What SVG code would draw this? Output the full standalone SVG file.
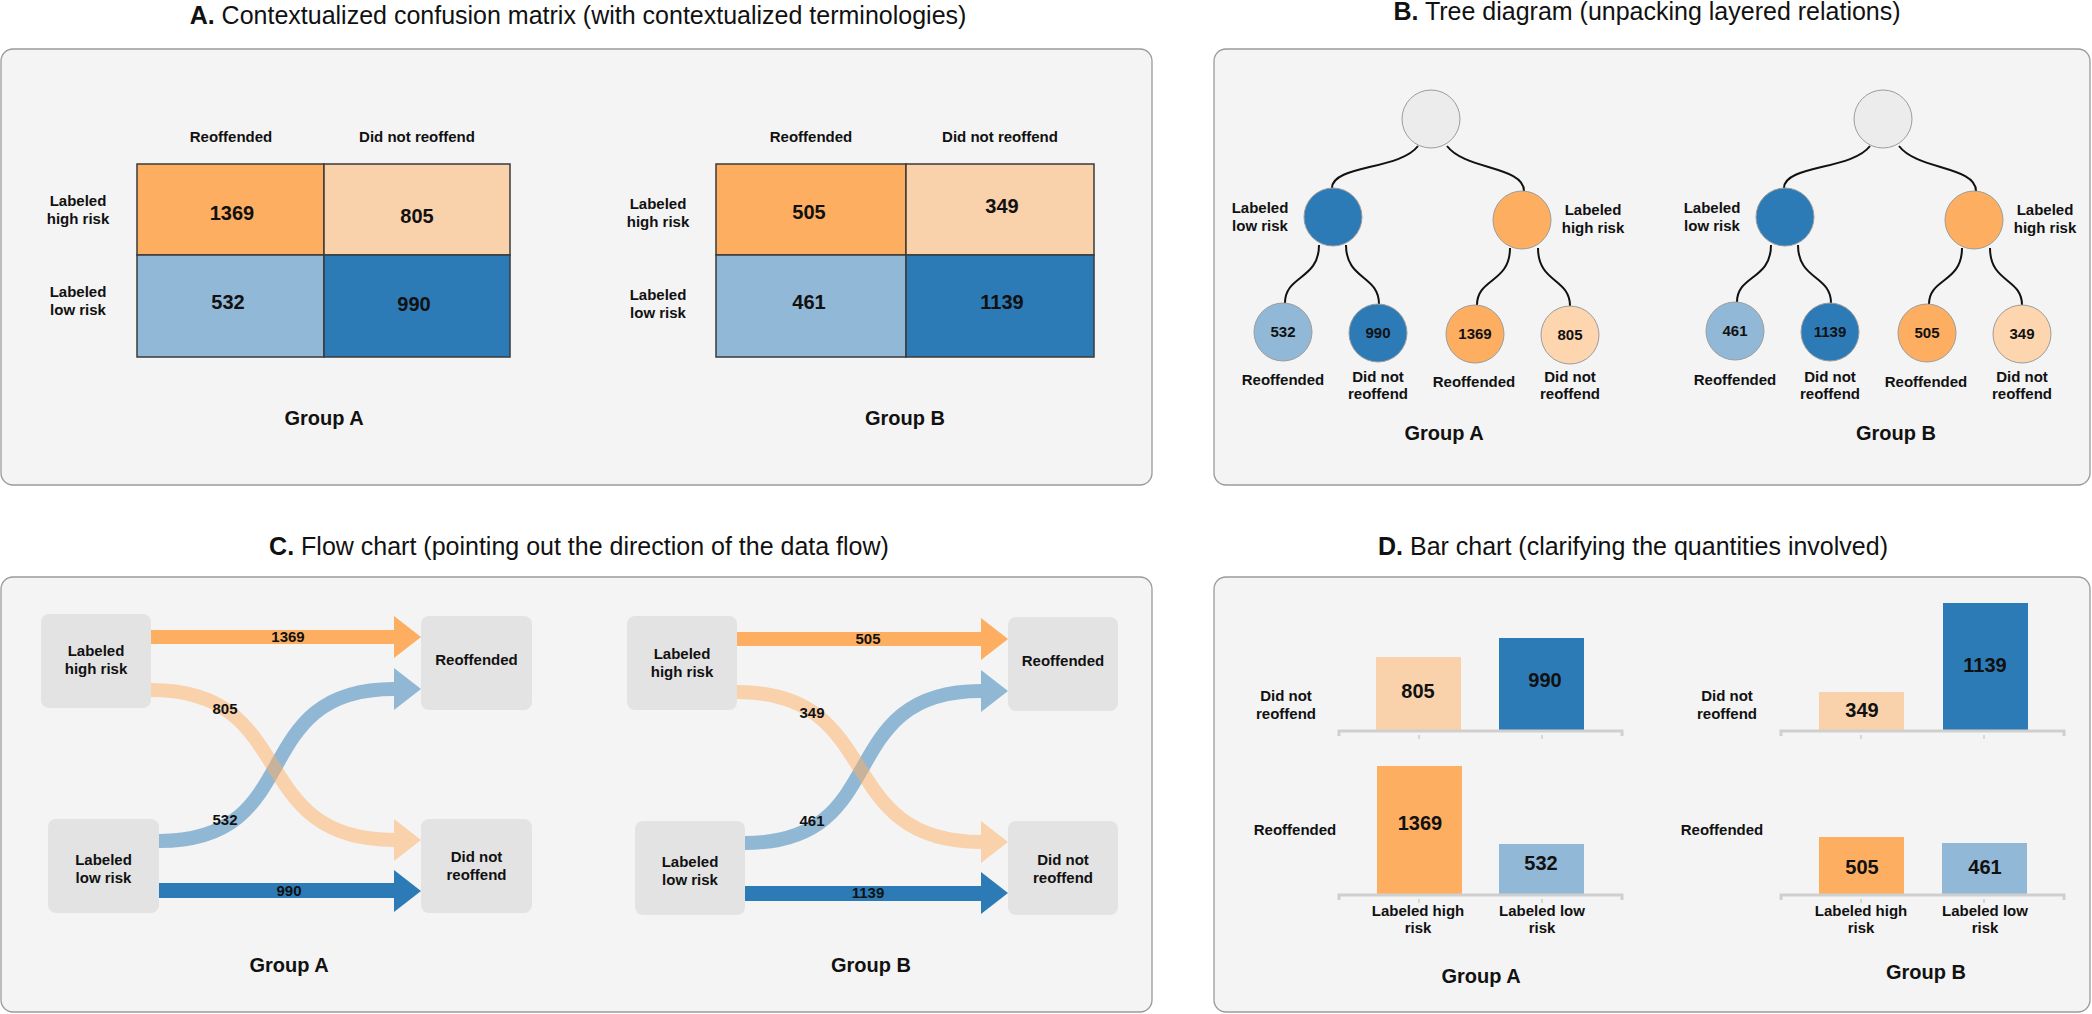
<svg xmlns="http://www.w3.org/2000/svg" width="2092" height="1014" viewBox="0 0 2092 1014">
<defs>
<style>
text{font-family:"Liberation Sans",Arial,sans-serif;fill:#111;text-anchor:middle}
.title{font-size:25px;font-weight:400}
.lbl{font-size:15px;font-weight:700}
.num{font-size:20px;font-weight:700}
.sn{font-size:15px;font-weight:700}
.grp{font-size:20px;font-weight:700}
.panel{fill:#f4f4f4;stroke:#9a9a9a;stroke-width:1.3}
.cell{stroke:#3a3a3a;stroke-width:1.5}
.dor{fill:#fdae61}.lor{fill:#f9d1aa}.lbl-b{fill:#91b8d6}.dbl{fill:#2c7bb6}
.fbox{fill:#e3e3e3}
.conn{fill:none;stroke:#111;stroke-width:2}
.circ{stroke:#9c9c9c;stroke-width:1}
.axis{stroke:#cfcfcf;stroke-width:3;fill:none}
.tick{stroke:#cfcfcf;stroke-width:1.5}
.band-o{fill:none;stroke:#fdae61;stroke-opacity:.5;stroke-width:14}
.band-b{fill:none;stroke:#2c7bb6;stroke-opacity:.5;stroke-width:14}
.head-o{fill:#fdae61;fill-opacity:.5}
.head-b{fill:#2c7bb6;fill-opacity:.5}
</style>
</defs>
<rect width="2092" height="1014" fill="#ffffff"/>

<!-- Titles -->
<text class="title" x="578" y="24"><tspan font-weight="700">A.</tspan> Contextualized confusion matrix (with contextualized terminologies)</text>
<text class="title" x="1647" y="20"><tspan font-weight="700">B.</tspan> Tree diagram (unpacking layered relations)</text>
<text class="title" x="579" y="555"><tspan font-weight="700">C.</tspan> Flow chart (pointing out the direction of the data flow)</text>
<text class="title" x="1633" y="555"><tspan font-weight="700">D.</tspan> Bar chart (clarifying the quantities involved)</text>

<!-- Panels -->
<rect class="panel" x="1" y="49" width="1151" height="436" rx="12"/>
<rect class="panel" x="1214" y="49" width="876" height="436" rx="12"/>
<rect class="panel" x="1" y="577" width="1151" height="435" rx="12"/>
<rect class="panel" x="1214" y="577" width="876" height="435" rx="12"/>

<!-- ===== A. Confusion matrices ===== -->
<g id="matrixA">
<text class="lbl" x="231" y="142">Reoffended</text>
<text class="lbl" x="417" y="142">Did not reoffend</text>
<text class="lbl" x="78" y="206">Labeled</text>
<text class="lbl" x="78" y="224">high risk</text>
<text class="lbl" x="78" y="297">Labeled</text>
<text class="lbl" x="78" y="315">low risk</text>
<rect class="cell dor" x="137" y="164" width="187" height="91"/>
<rect class="cell lor" x="324" y="164" width="186" height="91"/>
<rect class="cell lbl-b" x="137" y="255" width="187" height="102"/>
<rect class="cell dbl" x="324" y="255" width="186" height="102"/>
<text class="num" x="232" y="220">1369</text>
<text class="num" x="417" y="223">805</text>
<text class="num" x="228" y="309">532</text>
<text class="num" x="414" y="311">990</text>
<text class="grp" x="324" y="425">Group A</text>
</g>
<g id="matrixB">
<text class="lbl" x="811" y="142">Reoffended</text>
<text class="lbl" x="1000" y="142">Did not reoffend</text>
<text class="lbl" x="658" y="209">Labeled</text>
<text class="lbl" x="658" y="227">high risk</text>
<text class="lbl" x="658" y="300">Labeled</text>
<text class="lbl" x="658" y="318">low risk</text>
<rect class="cell dor" x="716" y="164" width="190" height="91"/>
<rect class="cell lor" x="906" y="164" width="188" height="91"/>
<rect class="cell lbl-b" x="716" y="255" width="190" height="102"/>
<rect class="cell dbl" x="906" y="255" width="188" height="102"/>
<text class="num" x="809" y="219">505</text>
<text class="num" x="1002" y="213">349</text>
<text class="num" x="809" y="309">461</text>
<text class="num" x="1002" y="309">1139</text>
<text class="grp" x="905" y="425">Group B</text>
</g>

<!-- ===== B. Tree diagrams ===== -->
<g id="tree-connectors">
<path class="conn" d="M1418,146 C1400,170 1332,165 1332,188"/>
<path class="conn" d="M1447,146 C1465,170 1524,166 1524,191"/>
<path class="conn" d="M1319,245 C1319,280 1285,275 1285,303"/>
<path class="conn" d="M1346,245 C1346,280 1379,275 1379,304"/>
<path class="conn" d="M1510,248 C1510,283 1477,278 1477,305"/>
<path class="conn" d="M1538,248 C1538,283 1570,278 1570,306"/>
<path class="conn" d="M1870,146 C1852,170 1784,165 1784,188"/>
<path class="conn" d="M1899,146 C1917,170 1976,166 1976,191"/>
<path class="conn" d="M1771,245 C1771,280 1737,275 1737,302"/>
<path class="conn" d="M1798,245 C1798,280 1831,275 1831,303"/>
<path class="conn" d="M1962,248 C1962,283 1929,278 1929,304"/>
<path class="conn" d="M1990,248 C1990,283 2022,278 2022,305"/>
</g>
<g id="treeA">
<circle class="circ" cx="1431" cy="119" r="29" fill="#ececec"/>
<circle class="circ" cx="1333" cy="217" r="29" fill="#2c7bb6"/>
<circle class="circ" cx="1522" cy="220" r="29" fill="#fdae61"/>
<circle class="circ" cx="1283" cy="332" r="29" fill="#91b8d6"/>
<circle class="circ" cx="1378" cy="333" r="29" fill="#2c7bb6"/>
<circle class="circ" cx="1475" cy="334" r="29" fill="#fdae61"/>
<circle class="circ" cx="1570" cy="335" r="29" fill="#fdd5ae"/>
<text class="sn" x="1283" y="337">532</text>
<text class="sn" x="1378" y="338">990</text>
<text class="sn" x="1475" y="339">1369</text>
<text class="sn" x="1570" y="340">805</text>
<text class="lbl" x="1260" y="213">Labeled</text>
<text class="lbl" x="1260" y="231">low risk</text>
<text class="lbl" x="1593" y="215">Labeled</text>
<text class="lbl" x="1593" y="233">high risk</text>
<text class="lbl" x="1283" y="385">Reoffended</text>
<text class="lbl" x="1378" y="382">Did not</text>
<text class="lbl" x="1378" y="399">reoffend</text>
<text class="lbl" x="1474" y="387">Reoffended</text>
<text class="lbl" x="1570" y="382">Did not</text>
<text class="lbl" x="1570" y="399">reoffend</text>
<text class="grp" x="1444" y="440">Group A</text>
</g>
<g id="treeB">
<circle class="circ" cx="1883" cy="119" r="29" fill="#ececec"/>
<circle class="circ" cx="1785" cy="217" r="29" fill="#2c7bb6"/>
<circle class="circ" cx="1974" cy="220" r="29" fill="#fdae61"/>
<circle class="circ" cx="1735" cy="331" r="29" fill="#91b8d6"/>
<circle class="circ" cx="1830" cy="332" r="29" fill="#2c7bb6"/>
<circle class="circ" cx="1927" cy="333" r="29" fill="#fdae61"/>
<circle class="circ" cx="2022" cy="334" r="29" fill="#fdd5ae"/>
<text class="sn" x="1735" y="336">461</text>
<text class="sn" x="1830" y="337">1139</text>
<text class="sn" x="1927" y="338">505</text>
<text class="sn" x="2022" y="339">349</text>
<text class="lbl" x="1712" y="213">Labeled</text>
<text class="lbl" x="1712" y="231">low risk</text>
<text class="lbl" x="2045" y="215">Labeled</text>
<text class="lbl" x="2045" y="233">high risk</text>
<text class="lbl" x="1735" y="385">Reoffended</text>
<text class="lbl" x="1830" y="382">Did not</text>
<text class="lbl" x="1830" y="399">reoffend</text>
<text class="lbl" x="1926" y="387">Reoffended</text>
<text class="lbl" x="2022" y="382">Did not</text>
<text class="lbl" x="2022" y="399">reoffend</text>
<text class="grp" x="1896" y="440">Group B</text>
</g>

<!-- ===== C. Flow charts ===== -->
<g id="flowA-high"><rect class="fbox" x="41" y="614" width="110" height="94" rx="8"/>
<text class="lbl" x="96" y="656">Labeled</text><text class="lbl" x="96" y="674">high risk</text></g>
<g id="flowA-low"><rect class="fbox" x="48" y="819" width="111" height="94" rx="8"/>
<text class="lbl" x="103.5" y="865">Labeled</text><text class="lbl" x="103.5" y="883">low risk</text></g>
<g id="flowA-reo"><rect class="fbox" x="421" y="616" width="111" height="94" rx="8"/>
<text class="lbl" x="476.5" y="665">Reoffended</text></g>
<g id="flowA-not"><rect class="fbox" x="421" y="819" width="111" height="94" rx="8"/>
<text class="lbl" x="476.5" y="862">Did not</text><text class="lbl" x="476.5" y="880">reoffend</text></g>

<g id="flowB-high"><rect class="fbox" x="627" y="616" width="110" height="94" rx="8"/>
<text class="lbl" x="682" y="659">Labeled</text><text class="lbl" x="682" y="677">high risk</text></g>
<g id="flowB-low"><rect class="fbox" x="635" y="821" width="110" height="94" rx="8"/>
<text class="lbl" x="690" y="867">Labeled</text><text class="lbl" x="690" y="885">low risk</text></g>
<g id="flowB-reo"><rect class="fbox" x="1008" y="617" width="110" height="94" rx="8"/>
<text class="lbl" x="1063" y="666">Reoffended</text></g>
<g id="flowB-not"><rect class="fbox" x="1008" y="821" width="110" height="94" rx="8"/>
<text class="lbl" x="1063" y="865">Did not</text><text class="lbl" x="1063" y="883">reoffend</text></g>

<g id="flow-connectors">
<!-- Group A -->
<path class="band-b" d="M159,841 C309,841 244,689 394,689"/>
<polygon class="head-b" points="394,668 421,689 394,710"/>
<path class="band-o" d="M151,690 C301,690 244,840 394,840"/>
<polygon class="head-o" points="394,819 421,840 394,861"/>
<rect x="151" y="630" width="243" height="14" fill="#fdae61"/>
<polygon points="394,616 421,637 394,658" fill="#fdae61"/>
<rect x="159" y="883" width="235" height="15" fill="#2c7bb6"/>
<polygon points="394,870 421,891 394,912" fill="#2c7bb6"/>
<text class="sn" x="288" y="642">1369</text>
<text class="sn" x="225" y="714">805</text>
<text class="sn" x="225" y="825">532</text>
<text class="sn" x="289" y="896">990</text>
<!-- Group B -->
<path class="band-b" d="M745,843 C895,843 831,691 981,691"/>
<polygon class="head-b" points="981,670 1008,691 981,712"/>
<path class="band-o" d="M737,692 C887,692 831,842 981,842"/>
<polygon class="head-o" points="981,821 1008,842 981,863"/>
<rect x="737" y="632" width="244" height="14" fill="#fdae61"/>
<polygon points="981,618 1008,639 981,660" fill="#fdae61"/>
<rect x="745" y="886" width="236" height="15" fill="#2c7bb6"/>
<polygon points="981,872 1008,893 981,914" fill="#2c7bb6"/>
<text class="sn" x="868" y="644">505</text>
<text class="sn" x="812" y="718">349</text>
<text class="sn" x="812" y="826">461</text>
<text class="sn" x="868" y="898">1139</text>
</g>
<text class="grp" x="289" y="972">Group A</text>
<text class="grp" x="871" y="972">Group B</text>

<!-- ===== D. Bar charts ===== -->
<g id="barsA">
<rect class="lor" x="1376" y="657" width="85" height="74"/>
<rect class="dbl" x="1499" y="638" width="85" height="93"/>
<rect class="dor" x="1377" y="766" width="85" height="129"/>
<rect class="lbl-b" x="1499" y="844" width="85" height="51"/>
<path class="axis" d="M1339,736 V731 H1622 V736"/>
<path class="axis" d="M1339,900 V895 H1622 V900"/>
<line class="tick" x1="1419" y1="735" x2="1419" y2="739"/>
<line class="tick" x1="1542" y1="735" x2="1542" y2="739"/>
<line class="tick" x1="1419" y1="899" x2="1419" y2="903"/>
<line class="tick" x1="1542" y1="899" x2="1542" y2="903"/>
<text class="num" x="1418" y="698">805</text>
<text class="num" x="1545" y="687">990</text>
<text class="num" x="1420" y="830">1369</text>
<text class="num" x="1541" y="870">532</text>
<text class="lbl" x="1286" y="701">Did not</text>
<text class="lbl" x="1286" y="719">reoffend</text>
<text class="lbl" x="1295" y="835">Reoffended</text>
<text class="lbl" x="1418" y="916">Labeled high</text>
<text class="lbl" x="1418" y="933">risk</text>
<text class="lbl" x="1542" y="916">Labeled low</text>
<text class="lbl" x="1542" y="933">risk</text>
<text class="grp" x="1481" y="983">Group A</text>
</g>
<g id="barsB">
<rect class="lor" x="1819" y="692" width="85" height="39"/>
<rect class="dbl" x="1943" y="603" width="85" height="128"/>
<rect class="dor" x="1819" y="837" width="85" height="58"/>
<rect class="lbl-b" x="1942" y="843" width="85" height="52"/>
<path class="axis" d="M1781,736 V731 H2064 V736"/>
<path class="axis" d="M1781,900 V895 H2064 V900"/>
<line class="tick" x1="1861" y1="735" x2="1861" y2="739"/>
<line class="tick" x1="1984" y1="735" x2="1984" y2="739"/>
<line class="tick" x1="1861" y1="899" x2="1861" y2="903"/>
<line class="tick" x1="1984" y1="899" x2="1984" y2="903"/>
<text class="num" x="1862" y="717">349</text>
<text class="num" x="1985" y="672">1139</text>
<text class="num" x="1862" y="874">505</text>
<text class="num" x="1985" y="874">461</text>
<text class="lbl" x="1727" y="701">Did not</text>
<text class="lbl" x="1727" y="719">reoffend</text>
<text class="lbl" x="1722" y="835">Reoffended</text>
<text class="lbl" x="1861" y="916">Labeled high</text>
<text class="lbl" x="1861" y="933">risk</text>
<text class="lbl" x="1985" y="916">Labeled low</text>
<text class="lbl" x="1985" y="933">risk</text>
<text class="grp" x="1926" y="979">Group B</text>
</g>
</svg>
